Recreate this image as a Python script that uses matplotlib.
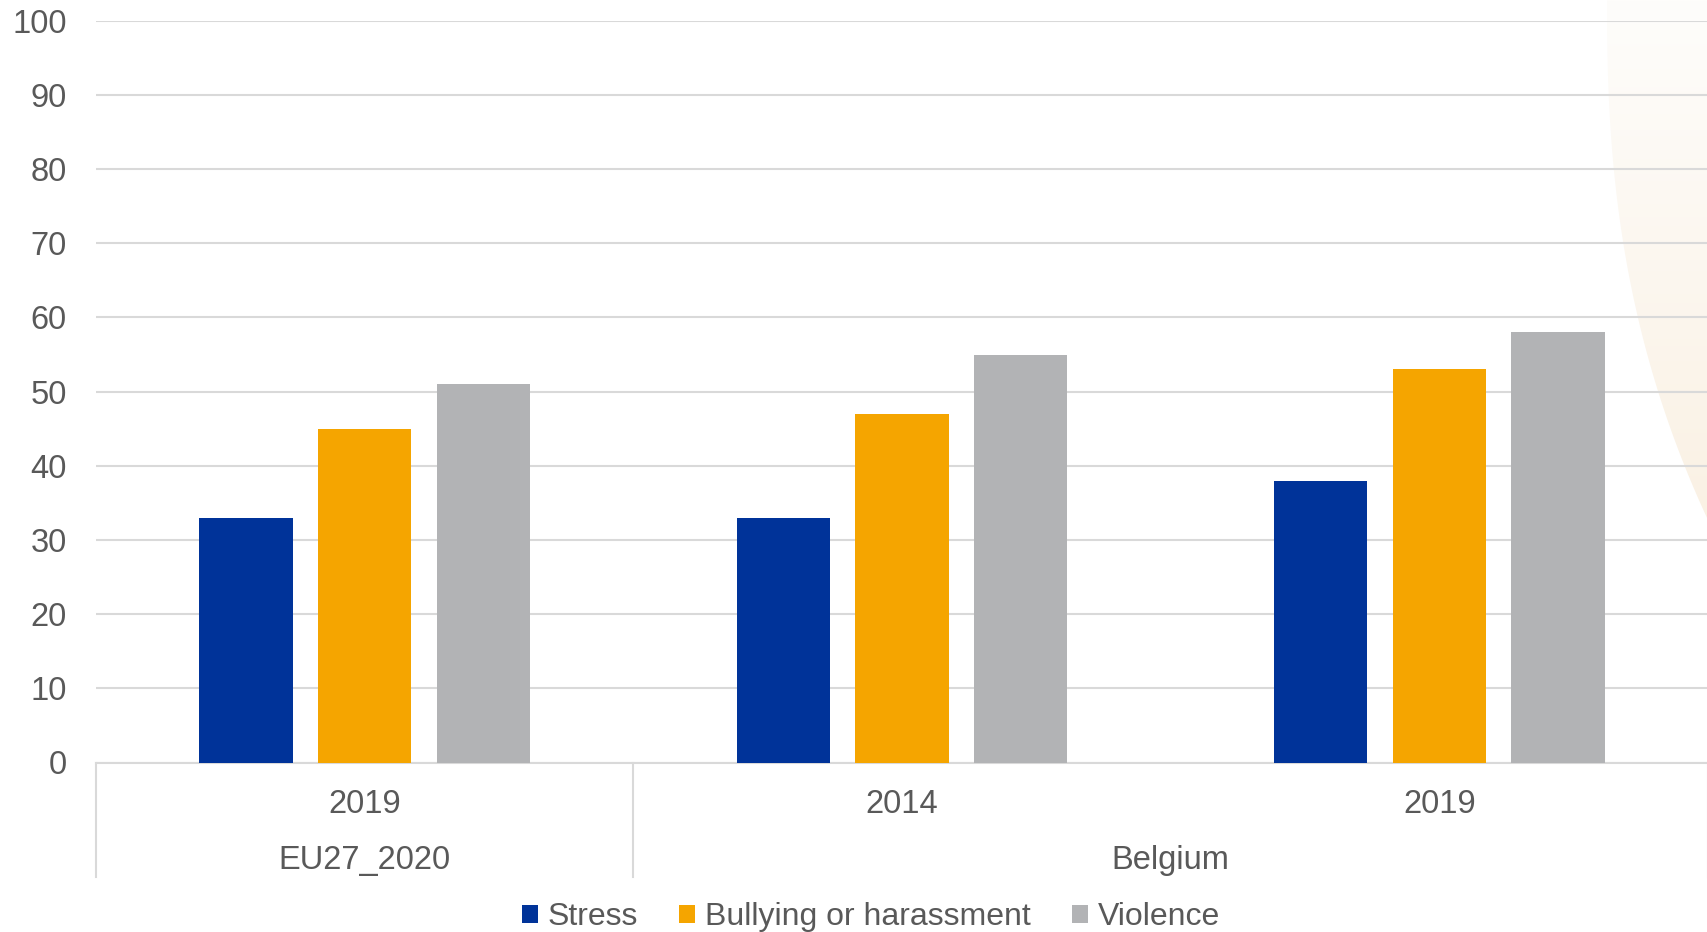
import numpy as np
import matplotlib.pyplot as plt
from matplotlib.patches import Polygon, Patch
from matplotlib.colors import LinearSegmentedColormap

plt.rcParams['font.family'] = ['Liberation Sans', 'DejaVu Sans']

years = ["2019", "2014", "2019"]
countries = ["EU27_2020", "Belgium"]
country_centers = [0, 1.5]
series = ["Stress", "Bullying or harassment", "Violence"]
stress = [33, 33, 38]
bullying = [45, 47, 53]
violence = [51, 55, 58]
colors = ["#003399", "#F5A500", "#B2B3B5"]
text_col = "#595959"
grid_col = "#D9D9D9"

fig = plt.figure(figsize=(17.08, 9.32), dpi=100)
W, H = 1708, 932

# faint decorative shape on the right, fading in from the top
bg = fig.add_axes([0, 0, 1, 1], zorder=-1)
bg.set_axis_off()
bg.set_xlim(0, W)
bg.set_ylim(H, 0)
ys = np.linspace(0, 520, 60)
edge = 1607 + 101 * (ys / 520) ** 2.4
pts = list(zip(edge, ys)) + [(1708, 0)]
shape = Polygon(pts, closed=True, facecolor="none", edgecolor="none")
bg.add_patch(shape)
cmap = LinearSegmentedColormap.from_list("fade", ["#FEFDFB", "#FAF1E4"])
grad = np.linspace(0, 1, 256).reshape(-1, 1)
im = bg.imshow(grad, cmap=cmap, extent=[1600, 1708, 520, 0], aspect="auto")
im.set_clip_path(shape)

ax = fig.add_axes([96 / W, 1 - 762.5 / H, 1 - 96 / W, (762.5 - 20.7) / H])
ax.set_facecolor("none")

x = range(len(years))
step = 0.221
width = 0.174
for i, (vals, c) in enumerate(zip([stress, bullying, violence], colors)):
    ax.bar([xi + (i - 1) * step for xi in x], vals, width=width, color=c, zorder=3)

ax.set_xlim(-0.5, 2.5)
ax.set_ylim(0, 100)
ax.set_yticks(range(0, 101, 10))
ax.yaxis.grid(True, color=grid_col, linewidth=1.5, zorder=1)
ax.set_axisbelow(True)
ax.tick_params(axis="y", length=0, pad=21, labelsize=23.5, labelcolor=text_col)
ax.set_xticks([])
for s in ["top", "right", "left"]:
    ax.spines[s].set_visible(False)
ax.spines["bottom"].set_color(grid_col)
ax.spines["bottom"].set_linewidth(1.5)

# category labels below axis
for xi, yr in zip(x, years):
    ax.text(xi, -5.6, yr, ha="center", va="center", fontsize=23.5,
            color=text_col, clip_on=False)
for cx, name in zip(country_centers, countries):
    ax.text(cx, -13.2, name, ha="center", va="center", fontsize=23.5,
            color=text_col, clip_on=False)
for sx in [-0.5, 0.5, 2.5]:
    ax.plot([sx, sx], [0, -15.5], color=grid_col, linewidth=1.5, clip_on=False)

handles = [Patch(facecolor=c, edgecolor="none") for c in colors]
fig.legend(handles, series, loc="center", bbox_to_anchor=(0.51, 0.016),
           ncol=3, frameon=False, fontsize=23, labelcolor=text_col,
           handlelength=0.5, handleheight=0.5, handletextpad=0.3,
           columnspacing=1.3)

fig.savefig("out.png", dpi=100)
